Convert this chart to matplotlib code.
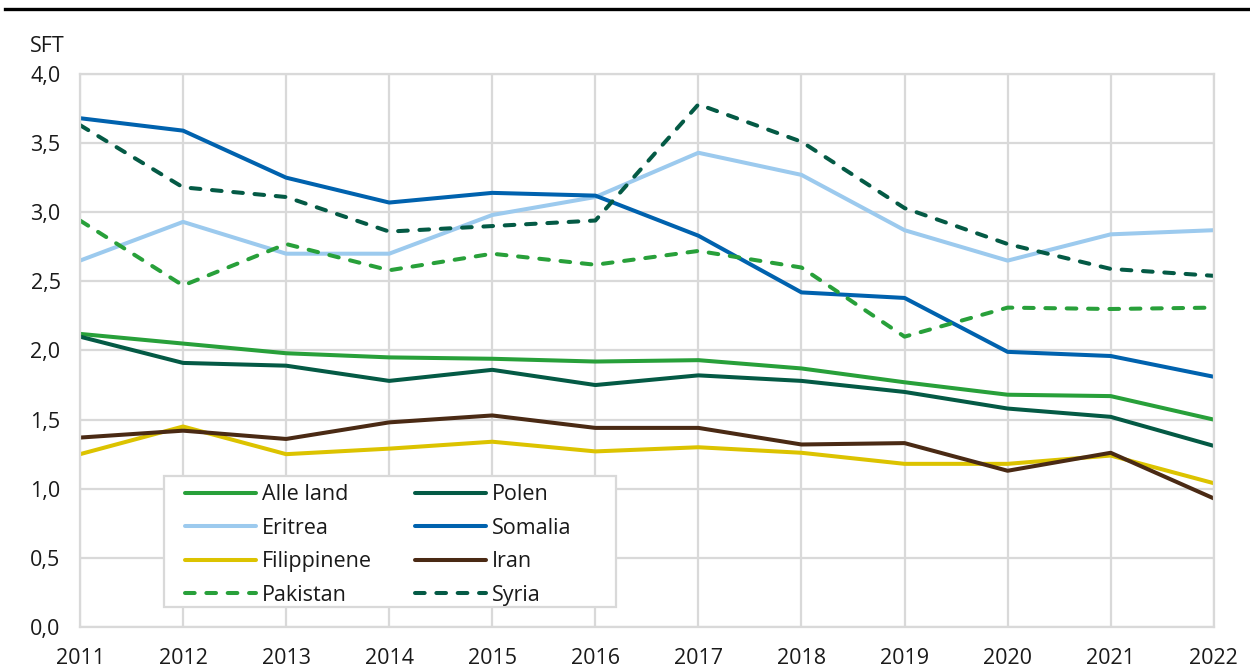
import matplotlib
matplotlib.use("Agg")
import matplotlib.pyplot as plt
from matplotlib.lines import Line2D
from matplotlib.patches import Rectangle
from matplotlib.ticker import FuncFormatter

plt.rcParams["font.family"] = ["Open Sans", "DejaVu Sans"]

years = list(range(2011, 2023))

alle_land   = [2.12, 2.05, 1.98, 1.95, 1.94, 1.92, 1.93, 1.87, 1.77, 1.68, 1.67, 1.50]
polen       = [2.10, 1.91, 1.89, 1.78, 1.86, 1.75, 1.82, 1.78, 1.70, 1.58, 1.52, 1.31]
eritrea     = [2.65, 2.93, 2.70, 2.70, 2.98, 3.11, 3.43, 3.27, 2.87, 2.65, 2.84, 2.87]
somalia     = [3.68, 3.59, 3.25, 3.07, 3.14, 3.12, 2.83, 2.42, 2.38, 1.99, 1.96, 1.81]
filippinene = [1.25, 1.45, 1.25, 1.29, 1.34, 1.27, 1.30, 1.26, 1.18, 1.18, 1.24, 1.04]
iran        = [1.37, 1.42, 1.36, 1.48, 1.53, 1.44, 1.44, 1.32, 1.33, 1.13, 1.26, 0.93]
pakistan    = [2.94, 2.47, 2.77, 2.58, 2.70, 2.62, 2.72, 2.60, 2.10, 2.31, 2.30, 2.31]
syria       = [3.63, 3.18, 3.11, 2.86, 2.90, 2.94, 3.78, 3.51, 3.03, 2.77, 2.59, 2.54]

C_GREEN = "#28a03a"
C_DKGREEN = "#045a45"
C_LTBLUE = "#9ccaee"
C_BLUE = "#0062ae"
C_YELLOW = "#dcc300"
C_BROWN = "#4a2a14"
C_GRID = "#d9d9d9"
C_TEXT = "#1a1a1a"

# (label, values, colour, dashed) in legend order (row-wise, 2 columns)
series = [
    ("Alle land", alle_land, C_GREEN, False),
    ("Polen", polen, C_DKGREEN, False),
    ("Eritrea", eritrea, C_LTBLUE, False),
    ("Somalia", somalia, C_BLUE, False),
    ("Filippinene", filippinene, C_YELLOW, False),
    ("Iran", iran, C_BROWN, False),
    ("Pakistan", pakistan, C_GREEN, True),
    ("Syria", syria, C_DKGREEN, True),
]
# drawing order (back to front)
draw_order = ["Eritrea", "Somalia", "Pakistan", "Syria", "Alle land", "Polen",
              "Filippinene", "Iran"]

LW = 2.9
FS = 15.5
DASH = (2.4, 2.9)

fig = plt.figure(figsize=(12.5, 6.7), dpi=100)
ax = fig.add_axes([0.064, 0.0642, 0.907, 0.8254])

lookup = {s[0]: s for s in series}
for name in draw_order:
    label, vals, col, dashed = lookup[name]
    kw = dict(color=col, lw=LW, solid_capstyle="round", solid_joinstyle="round")
    if dashed:
        kw.update(dashes=DASH, dash_capstyle="round")
    ax.plot(years, vals, **kw)

ax.set_xlim(2011, 2022)
ax.set_ylim(0, 4.0)
ax.set_xticks(years)
ax.set_yticks([0, 0.5, 1.0, 1.5, 2.0, 2.5, 3.0, 3.5, 4.0])
ax.yaxis.set_major_formatter(FuncFormatter(lambda v, p: f"{v:.1f}".replace(".", ",")))
ax.tick_params(axis="both", length=0, labelsize=FS, colors=C_TEXT)
ax.tick_params(axis="y", pad=14)
ax.tick_params(axis="x", pad=15)
ax.grid(True, color=C_GRID, lw=1.6)
ax.set_axisbelow(True)
for sp in ax.spines.values():
    sp.set_color(C_GRID)
    sp.set_linewidth(1.6)

handles = []
for label, vals, col, dashed in series:
    if dashed:
        handles.append(Line2D([0], [0], color=col, lw=LW, dashes=DASH,
                              dash_capstyle="round", label=label))
    else:
        handles.append(Line2D([0], [0], color=col, lw=LW, solid_capstyle="round",
                              label=label))
# matplotlib fills legend columns first -> reorder so rows read pairwise
handles = handles[0::2] + handles[1::2]

# legend frame is wider than its content, so draw it as a separate box
ax.add_patch(Rectangle((0.0741, 0.0362), 0.3986, 0.2368, transform=ax.transAxes,
                       facecolor="white", edgecolor=C_GRID, lw=1.6, zorder=4.5,
                       clip_on=False))
leg = ax.legend(handles=handles, ncol=2, loc="upper left",
                bbox_to_anchor=(0.0926, 0.258), borderaxespad=0, fontsize=FS,
                handlelength=3.3, handletextpad=0.28, columnspacing=2.0,
                labelspacing=0.58, borderpad=0, frameon=False)
for t in leg.get_texts():
    t.set_color(C_TEXT)

fig.text(0.024, 1 - 46 / 670, "SFT", fontsize=FS, va="center", ha="left",
         color=C_TEXT)
fig.add_artist(Line2D([0.004, 1.0], [1 - 9 / 670, 1 - 9 / 670], color="black",
                      lw=2.4, transform=fig.transFigure))

fig.savefig("out.png", dpi=100)
